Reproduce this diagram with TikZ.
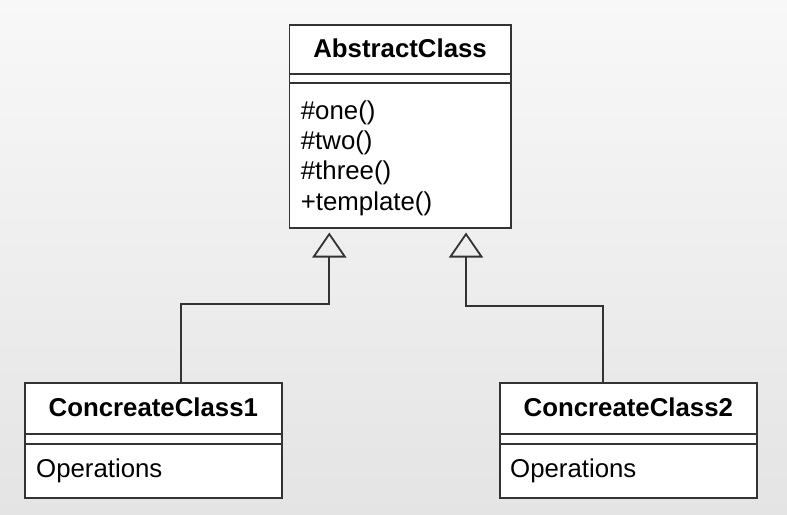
\documentclass[tikz,border=0pt]{standalone}
\usepackage{fontspec}
\setmainfont{Liberation Sans}
\usetikzlibrary{arrows.meta}
\definecolor{bgtop}{HTML}{F8F8F8}
\definecolor{bgbot}{HTML}{E4E4E4}
\definecolor{ln}{HTML}{333333}
\begin{document}
\begin{tikzpicture}[x=1pt,y=-1pt,
  comp/.style={draw=ln, line width=1.8pt, fill=white, anchor=north west, inner sep=0pt, outer sep=0pt},
  lbl/.style={font=\fontsize{25.8}{30}\selectfont, inner sep=0pt, text=black},
  bold/.style={font=\fontsize{25.8}{30}\selectfont\bfseries, inner sep=0pt, text=black},
  inh/.style={draw=ln, line width=1.8pt, shorten >=4.5pt,
    -{Triangle[open, length=25pt, width=34pt, line width=1.8pt]}}]
\useasboundingbox (0,0) rectangle (787,514);
\fill[top color=bgtop, bottom color=bgbot] (0,0) rectangle (787,514);

% AbstractClass
\node[comp, minimum width=221.2pt, minimum height=49pt] (absN) at (289.5,25) {};
\node[comp, minimum width=221.2pt, minimum height=9.3pt] (absA) at (absN.south west) {};
\node[comp, minimum width=221.2pt, minimum height=144.7pt] (absM) at (absA.south west) {};
\node[bold, anchor=base] (absT) at (400.1,57.3) {AbstractClass};
\node[lbl, anchor=base west] (m1) at (300.7,119) {\#one()};
\node[lbl, anchor=base west] (m2) at (300.7,149.3) {\#two()};
\node[lbl, anchor=base west] (m3) at (300.7,179.6) {\#three()};
\node[lbl, anchor=base west] (m4) at (300.7,210) {+template()};

% ConcreateClass1
\node[comp, minimum width=256.7pt, minimum height=51pt] (c1N) at (25,383) {};
\node[comp, minimum width=256.7pt, minimum height=10pt] (c1A) at (c1N.south west) {};
\node[comp, minimum width=256.7pt, minimum height=54pt] (c1M) at (c1A.south west) {};
\node[bold, anchor=base] (c1T) at (153.35,416.7) {ConcreateClass1};
\node[lbl, anchor=base west] (c1O) at (36,477.3) {Operations};

% ConcreateClass2
\node[comp, minimum width=256.7pt, minimum height=51pt] (c2N) at (500,383) {};
\node[comp, minimum width=256.7pt, minimum height=10pt] (c2A) at (c2N.south west) {};
\node[comp, minimum width=256.7pt, minimum height=54pt] (c2M) at (c2A.south west) {};
\node[bold, anchor=base] (c2T) at (628.35,416.7) {ConcreateClass2};
\node[lbl, anchor=base west] (c2O) at (510,477.3) {Operations};

% generalizations
\coordinate (j1a) at (181,304);
\coordinate (j1b) at (329.3,304);
\coordinate (j2a) at (603,306);
\coordinate (j2b) at (466,306);
\draw[inh] (c1N.north -| j1a) -- (j1a) -- (j1b) -- (absM.south -| j1b);
\draw[inh] (c2N.north -| j2a) -- (j2a) -- (j2b) -- (absM.south -| j2b);
\end{tikzpicture}
\end{document}
